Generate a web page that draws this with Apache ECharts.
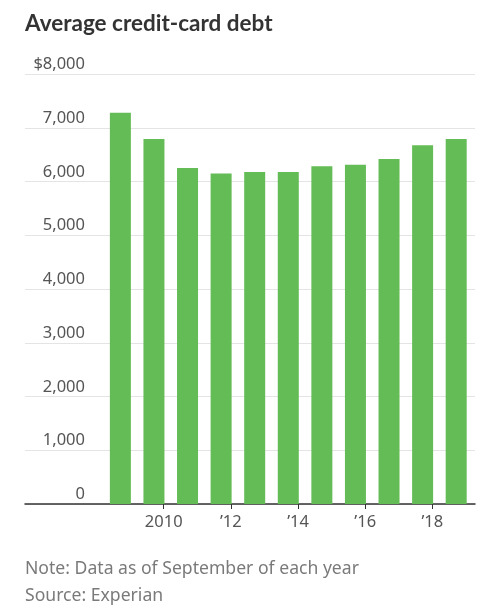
<!DOCTYPE html>
<html>
<head>
<meta charset="utf-8">
<script src="https://cdn.jsdelivr.net/npm/echarts@6/dist/echarts.min.js"></script>
<style>
  html, body { margin: 0; padding: 0; background: #fff; }
  #chart { width: 496px; height: 609px; }
</style>
</head>
<body>
<div id="chart"></div>
<script>
// readings as of September of each year, placed at their month on a year axis
var years = [2008, 2009, 2010, 2011, 2012, 2013, 2014, 2015, 2016, 2017, 2018];
var debt = [7280, 6790, 6250, 6150, 6175, 6175, 6285, 6310, 6420, 6675, 6790];
var xTicks = [2010, 2012, 2014, 2016, 2018];
var yTicks = [0, 1000, 2000, 3000, 4000, 5000, 6000, 7000, 8000];

var septOffset = 0.71;
var points = years.map(function (y, i) {
    return [y + septOffset, debt[i]];
});

function yearLabel(v) {
    if (v === 2010) return '2010';
    return '\u2019' + String(v).slice(2);
}

function moneyLabel(v) {
    var s = v === 0 ? '0' : (v / 1000) + ',000';
    return v === 8000 ? '$' + s : s;
}

var labelFont = 'Noto Sans';

var chart = echarts.init(document.getElementById('chart'));
chart.setOption({
    animation: false,
    textStyle: { fontFamily: labelFont },
    title: [{
        text: 'Average credit-card debt',
        left: 20,
        top: 7,
        textStyle: { fontSize: 22.5, fontWeight: 'bold', color: '#333', fontFamily: 'Lato' }
    }, {
        text: 'Note: Data as of September of each year\nSource: Experian',
        left: 20,
        top: 550,
        textStyle: { fontSize: 17.6, fontWeight: 'normal', color: '#7a7a7a', lineHeight: 27, fontFamily: labelFont }
    }],
    grid: { left: 25, right: 21, top: 74, bottom: 105, containLabel: false },
    xAxis: {
        type: 'value',
        min: 2005.87,
        max: 2019.27,
        splitLine: { show: false },
        axisLine: { show: true, onZero: false, lineStyle: { color: '#333', width: 1.5 } },
        axisTick: { show: true, customValues: xTicks, length: 5, lineStyle: { color: '#333' } },
        axisLabel: {
            customValues: xTicks,
            formatter: yearLabel,
            fontSize: 16.5,
            color: '#555',
            margin: 10
        }
    },
    yAxis: {
        type: 'value',
        min: yTicks[0],
        max: yTicks[yTicks.length - 1],
        interval: 1000,
        axisLine: { show: false },
        axisTick: { show: false },
        splitLine: { lineStyle: { color: '#e4e4e4', width: 1 } },
        axisLabel: {
            inside: true,
            margin: 60,
            align: 'right',
            verticalAlign: 'bottom',
            padding: [0, 0, 1, 0],
            fontSize: 16.5,
            color: '#555',
            formatter: moneyLabel
        }
    },
    series: [{
        type: 'bar',
        data: points,
        barWidth: 21,
        itemStyle: { color: '#63bc55' }
    }]
});
</script>
</body>
</html>
